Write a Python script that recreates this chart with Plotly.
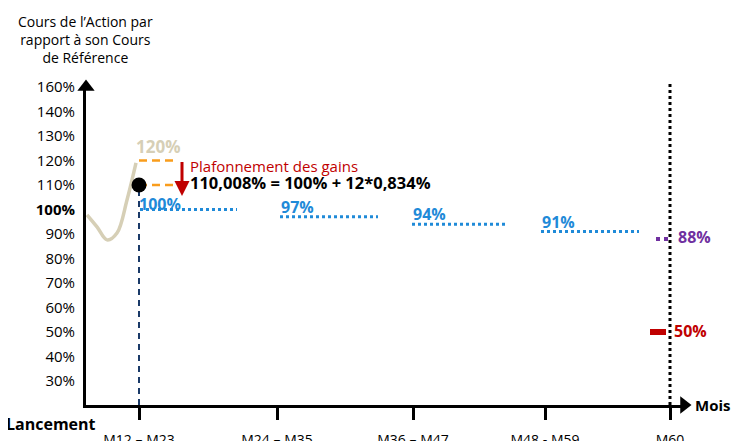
import plotly.graph_objects as go

FONT = "Open Sans"

# ---- data ----
period_labels = ["M12 – M23", "M24 – M35", "M36 – M47", "M48 - M59", "M60"]
period_pos = [53, 191, 327, 459, 584]

y_tick_vals = [30, 40, 50, 60, 70, 80, 90, 100, 110, 120, 130, 140, 150]
y_tick_text = ["30%", "40%", "50%", "60%", "70%", "80%", "90%", "<b>100%</b>",
               "110%", "120%", "130%", "140%", "160%"]

# beige share-price path before first observation
path_x = [1, 11, 21, 31, 41, 50]
path_y = [97.8, 92.9, 87.6, 90.4, 103.9, 119.0]

cap_level = 120
capped_level = 110
barrier_levels = [100, 97, 94, 91]
barrier_x0 = [54, 194, 326, 455]
barrier_x1 = [151, 292, 422, 553]
final_level = 88
protection_level = 50

X_RANGE = [0, 598]
Y_RANGE = [20.2, 150]

# page body offsets the figure by 8px; work in screenshot pixels
OFF = 8
W, H = 739, 441
PLOT_L, PLOT_R, PLOT_T, PLOT_B = 86, 684, 87, 405
ML, MR, MT, MB = PLOT_L - OFF, W + OFF - PLOT_R, PLOT_T - OFF, H + OFF - PLOT_B
PW, PH = PLOT_R - PLOT_L, PLOT_B - PLOT_T

BLUE = "#1f8ad8"
BEIGE = "#d6cfb6"
ORANGE = "#f99d1c"
RED = "#c00000"
PURPLE = "#7030a0"
NAVY = "#1a3a68"


def px_x(p):
    return (p - PLOT_L) / PW


def px_y(p):
    return (PLOT_B - p) / PH


fig = go.Figure()

fig.add_trace(go.Scatter(x=path_x, y=path_y, mode="lines", line=dict(color=BEIGE, width=3.5, shape="spline"),
                         hoverinfo="skip"))

fig.add_trace(go.Scatter(x=[period_pos[0], period_pos[0]], y=[Y_RANGE[0], capped_level], mode="lines",
                         line=dict(color=NAVY, width=2, dash="6px,5px"), hoverinfo="skip"))

for lvl in [cap_level, capped_level]:
    fig.add_trace(go.Scatter(x=[period_pos[0], period_pos[0] + 39], y=[lvl, lvl], mode="lines",
                             line=dict(color=ORANGE, width=2.5, dash="8px,5px"), hoverinfo="skip"))

for lvl, x0, x1 in zip(barrier_levels, barrier_x0, barrier_x1):
    fig.add_trace(go.Scatter(x=[x0, x1], y=[lvl, lvl], mode="lines",
                             line=dict(color=BLUE, width=3, dash="dot"), hoverinfo="skip"))

fig.add_trace(go.Scatter(x=[period_pos[4] - 14, period_pos[4] - 2], y=[final_level, final_level], mode="lines",
                         line=dict(color=PURPLE, width=4, dash="dot"), hoverinfo="skip"))
fig.add_trace(go.Scatter(x=[period_pos[4] - 20, period_pos[4] - 4], y=[protection_level, protection_level],
                         mode="lines", line=dict(color=RED, width=6), hoverinfo="skip"))

fig.add_trace(go.Scatter(x=[period_pos[0]], y=[capped_level], mode="markers",
                         marker=dict(color="black", size=15), cliponaxis=False, hoverinfo="skip"))

fig.add_trace(go.Scatter(x=[X_RANGE[0]], y=[Y_RANGE[1]], mode="markers",
                         marker=dict(symbol="triangle-up", color="black", size=15), cliponaxis=False,
                         hoverinfo="skip"))
fig.add_trace(go.Scatter(x=[X_RANGE[1]], y=[Y_RANGE[0]], mode="markers",
                         marker=dict(symbol="triangle-right", color="black", size=15), cliponaxis=False,
                         hoverinfo="skip"))

shapes = [
    dict(type="line", xref="x", yref="paper", x0=period_pos[4], x1=period_pos[4], y0=0, y1=1 + 6 / PH,
         line=dict(color="black", width=3, dash="dot")),
]

ann = []


def lab(x, y, text, color, bold=True, size=15.5, xanchor="left", yshift=0):
    ann.append(dict(x=x, y=y, xref="x", yref="y", text=f"<b>{text}</b>" if bold else text,
                    showarrow=False, xanchor=xanchor, yanchor="middle", yshift=yshift,
                    font=dict(family=FONT, size=size, color=color)))


lab(period_pos[0] - 5, cap_level, f"{cap_level}%", BEIGE, size=17, yshift=14)
for i, (lvl, x0) in enumerate(zip(barrier_levels, barrier_x0)):
    lab(x0 - 3 if i == 0 else x0 - 1, lvl, f"{lvl}%", BLUE, size=16, yshift=6 if i == 0 else 10)
lab(period_pos[4] + 6, final_level, f"{final_level}%", PURPLE, size=16, yshift=2)
lab(period_pos[4] + 2, protection_level, f"{protection_level}%", RED, size=16, yshift=1)
lab(102, cap_level, "Plafonnement des gains", RED, bold=False, size=15, yshift=-5)
lab(102, capped_level, "110,008% = 100% + 12*0,834%", "black", size=16.5, yshift=3)

ann.append(dict(x=96, y=105.5, ax=96, ay=cap_level, xref="x", yref="y", axref="x", ayref="y",
                showarrow=True, arrowhead=2, arrowsize=1, arrowwidth=3, arrowcolor=RED, text=""))

ann.append(dict(x=px_x(85), y=px_y(40), xref="paper", yref="paper",
                text="Cours de l’Action par<br>rapport à son Cours<br>de Référence",
                showarrow=False, xanchor="center", yanchor="middle", align="center",
                font=dict(family=FONT, size=14, color="black")))
ann.append(dict(x=px_x(4), y=px_y(424), xref="paper", yref="paper", text="<b>Lancement</b>",
                showarrow=False, xanchor="left", yanchor="middle", font=dict(family=FONT, size=16, color="black")))
ann.append(dict(x=px_x(693), y=px_y(405), xref="paper", yref="paper", text="<b>Mois</b>",
                showarrow=False, xanchor="left", yanchor="middle", font=dict(family=FONT, size=15, color="black")))

fig.update_layout(
    width=W, height=H,
    margin=dict(l=ML, r=MR, t=MT, b=MB),
    plot_bgcolor="white", paper_bgcolor="white",
    showlegend=False,
    shapes=shapes,
    annotations=ann,
    font=dict(family=FONT, size=14, color="black"),
    xaxis=dict(range=X_RANGE, showgrid=False, zeroline=False, showline=True, linewidth=3, linecolor="black",
               tickmode="array", tickvals=period_pos, ticktext=period_labels, ticks="outside",
               ticklen=12, tickwidth=3, tickcolor="black", ticklabelstandoff=8, automargin=False,
               tickfont=dict(family=FONT, size=14, color="black")),
    yaxis=dict(range=Y_RANGE, showgrid=False, zeroline=False, showline=True, linewidth=3, linecolor="black",
               tickmode="array", tickvals=y_tick_vals, ticktext=y_tick_text, ticks="",
               ticklabelstandoff=5, automargin=False, tickfont=dict(family=FONT, size=15, color="black")),
)

fig.write_html("out.html")
